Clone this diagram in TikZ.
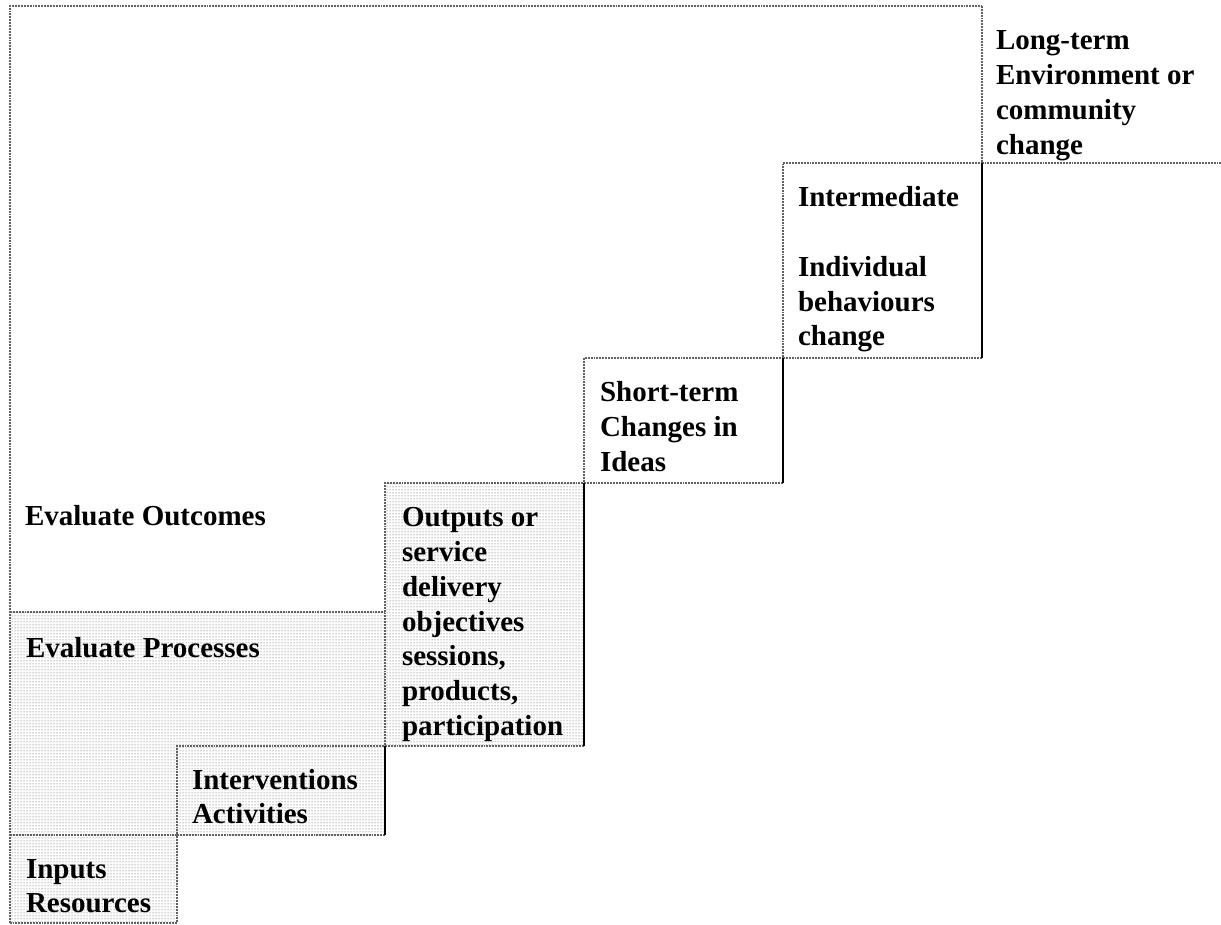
\documentclass[tikz,border=0pt]{standalone}
\usepackage{fontspec}
\setmainfont{Liberation Serif}
\usetikzlibrary{patterns}
\begin{document}
\begin{tikzpicture}[x=1pt,y=-1pt,
  region/.style={rectangle, inner sep=0pt, outer sep=0pt, anchor=north west},
  lbl/.style={anchor=north west, inner sep=0pt, outer sep=0pt, align=left,
    font=\fontsize{29}{34.7}\selectfont\bfseries},
  dotline/.style={draw=black!62, line width=1.9pt, densely dotted},
  solidline/.style={draw=black, line width=1.4pt},
  shade/.style={pattern=dots, pattern color=black!70}]
\useasboundingbox (0,0) rectangle (1221,925);
\fill[white] (0,0) rectangle (1221,925);
% regions
\node[region, minimum width=972pt, minimum height=606pt] (oc) at (10,6) {};
\node[region, minimum width=239pt, minimum height=157pt] (lt) at (982,6) {};
\node[region, minimum width=199pt, minimum height=195pt] (im) at (783,163) {};
\node[region, minimum width=199pt, minimum height=125pt] (st) at (584,358) {};
\node[region, minimum width=199pt, minimum height=263pt] (op) at (385,483) {};
\node[region, minimum width=375pt, minimum height=223pt] (pr) at (10,612) {};
\node[region, minimum width=208pt, minimum height=89pt] (iv) at (177,746) {};
\node[region, minimum width=167pt, minimum height=88pt] (in) at (10,835) {};
% shading
\fill[shade] (pr.north west) -- (pr.north east) -- (op.north west) -- (op.north east)
  -- (op.south east) -- (iv.north east) -- (iv.south east) -- (in.north east)
  -- (in.south east) -- (in.south west) -- cycle;
% frame
\draw[dotline] (in.south west) -- (oc.north west) -- (oc.north east);
% long-term
\draw[dotline] (lt.north west) -- (lt.south west) -- (lt.south east);
% intermediate
\draw[dotline] (im.south east) -- (im.south west) -- (im.north west) -- (im.north east);
\draw[solidline] (im.north east) -- (im.south east);
% short-term
\draw[dotline] (st.south east) -- (st.south west) -- (st.north west) -- (st.north east);
\draw[solidline] (st.north east) -- (st.south east);
% outputs
\draw[dotline] (op.south east) -- (op.south west) -- (op.north west) -- (op.north east);
\draw[solidline] (op.north east) -- (op.south east);
% processes
\draw[dotline] (pr.north west) -- (pr.north east);
% interventions
\draw[dotline] (iv.south east) -- (iv.south west) -- (iv.north west) -- (iv.north east);
\draw[solidline] (iv.north east) -- (iv.south east);
% inputs
\draw[dotline] (in.north west) -- (in.north east) -- (in.south east) -- (in.south west);
% labels
\node[lbl, xshift=14pt, yshift=-19.7pt] (ltT) at (lt.north west)
  {\strut Long-term\\Environment or\\community\\change};
\node[lbl, xshift=15pt, yshift=-19.7pt] (imT) at (im.north west)
  {\strut Intermediate\\[34.7pt]Individual\\behaviours\\change};
\node[lbl, xshift=16pt, yshift=-19.7pt] (stT) at (st.north west)
  {\strut Short-term\\Changes in\\Ideas};
\node[lbl, xshift=17pt, yshift=-19.7pt] (opT) at (op.north west)
  {\strut Outputs or\\service\\delivery\\objectives\\sessions,\\products,\\participation};
\node[lbl, xshift=15pt, yshift=-495.7pt] (ocT) at (oc.north west)
  {\strut Evaluate Outcomes};
\node[lbl, xshift=16pt, yshift=-21.7pt] (prT) at (pr.north west)
  {\strut Evaluate Processes};
\node[lbl, xshift=15pt, yshift=-19pt] (ivT) at (iv.north west)
  {\strut Interventions\\Activities};
\node[lbl, xshift=16pt, yshift=-19pt] (inT) at (in.north west)
  {\strut Inputs\\Resources};
\end{tikzpicture}
\end{document}
